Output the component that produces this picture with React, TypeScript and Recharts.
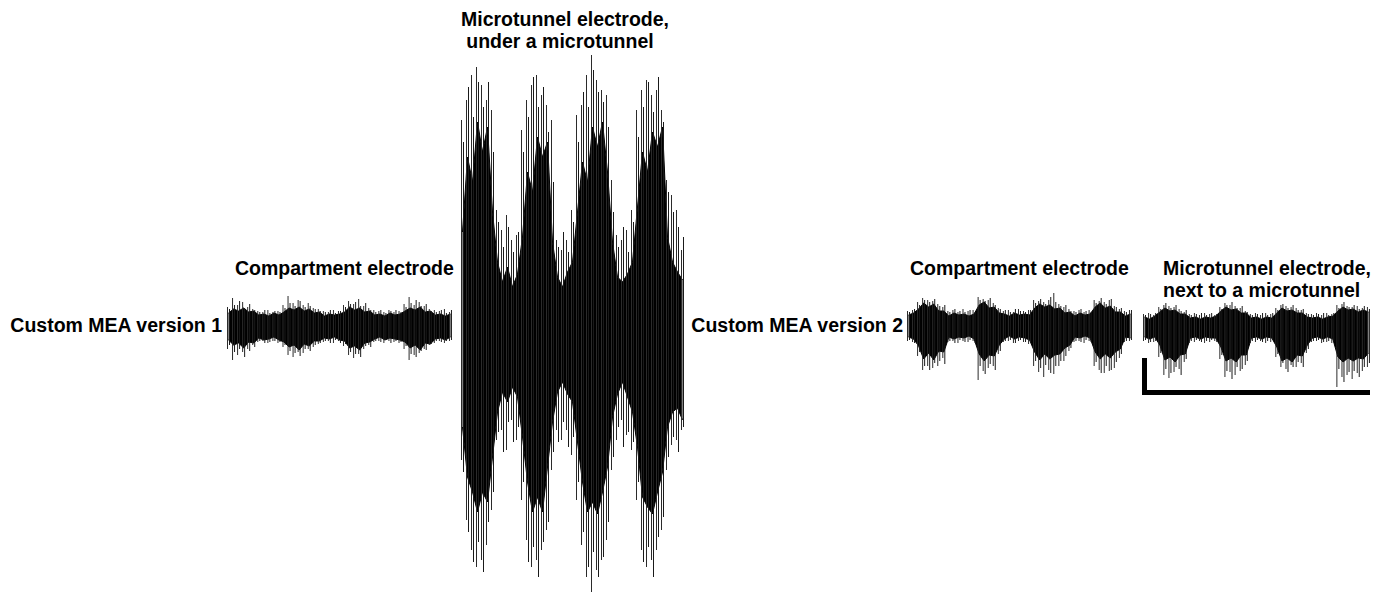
import React from "react";
import { ComposedChart, Area, Bar, XAxis, YAxis } from "recharts";

// amplitudes (1 unit = 1 px), positive = up, 45 time bins per trace
// core = solid black band, spikeA / spikeB = two sets of thin spike lines per bin

const coreHi1 = [14,18,16,19,15,16,12,13,11,14,12,15,19,17,20,16,18,14,15,11,13,12,13,15,20,17,19,15,16,12,13,11,14,12,13,16,19,17,20,15,16,12,13,11,13];
const coreLo1 = [-13,-18,-16,-21,-15,-16,-11,-13,-12,-10,-13,-15,-20,-18,-23,-17,-19,-14,-14,-11,-12,-10,-13,-14,-21,-19,-23,-16,-15,-12,-10,-13,-11,-12,-13,-15,-21,-18,-23,-16,-17,-12,-11,-13,-10];
const spikeHiA1 = [20,29,22,25,20,18,16,15,17,15,16,22,31,24,27,22,24,19,18,16,15,17,16,22,26,23,28,21,19,17,16,15,17,15,16,23,30,22,25,21,18,17,16,18,15];
const spikeLoA1 = [-22,-33,-28,-25,-22,-18,-15,-14,-16,-14,-16,-20,-28,-30,-25,-26,-22,-20,-17,-15,-14,-16,-14,-19,-28,-31,-27,-22,-18,-15,-14,-16,-14,-15,-16,-22,-33,-28,-26,-22,-18,-16,-14,-16,-14];
const spikeHiB1 = [18,22,26,19,23,17,15,17,14,16,15,19,24,21,26,20,21,18,16,15,17,14,16,20,23,25,21,24,17,15,17,14,16,17,15,20,24,27,21,23,16,15,17,14,17];
const spikeLoB1 = [-18,-25,-22,-30,-24,-20,-14,-16,-15,-14,-15,-18,-24,-26,-29,-22,-24,-18,-16,-14,-16,-13,-16,-17,-25,-27,-30,-19,-20,-14,-15,-13,-16,-14,-15,-19,-27,-30,-24,-23,-17,-14,-15,-14,-13];

const coreHi2 = [100,175,150,210,180,205,120,70,50,65,45,58,95,160,140,195,175,190,90,55,45,60,70,120,170,150,205,185,210,160,90,55,50,58,70,125,180,160,200,185,205,95,70,60,52];
const coreLo2 = [-95,-145,-160,-180,-160,-170,-125,-80,-60,-70,-55,-65,-105,-150,-180,-165,-180,-135,-90,-60,-50,-62,-70,-110,-150,-180,-170,-182,-160,-135,-85,-62,-50,-65,-80,-115,-165,-175,-182,-160,-140,-95,-80,-76,-88];
const spikeHiA2 = [212,232,257,265,247,232,222,122,102,117,92,97,202,232,247,257,237,227,212,92,82,92,122,217,227,257,277,252,242,237,152,97,92,102,122,222,242,252,237,242,222,152,137,122,82];
const spikeLoA2 = [-128,-188,-218,-235,-228,-213,-178,-108,-98,-118,-88,-108,-168,-208,-235,-228,-218,-198,-138,-98,-108,-98,-123,-168,-213,-245,-260,-238,-228,-208,-138,-108,-88,-103,-118,-168,-218,-235,-228,-218,-198,-138,-113,-108,-98];
const spikeHiB2 = [190,245,215,250,225,250,180,110,85,105,80,100,180,215,255,225,245,200,150,85,100,80,110,190,240,225,262,240,230,205,120,85,105,80,110,195,225,250,220,255,210,140,120,105,95];
const spikeLoB2 = [-140,-200,-230,-210,-240,-190,-160,-100,-120,-90,-110,-95,-150,-230,-215,-245,-210,-190,-120,-110,-90,-115,-105,-150,-200,-235,-220,-245,-225,-190,-125,-95,-115,-100,-110,-150,-230,-215,-245,-205,-185,-125,-105,-120,-95];

const coreHi3 = [11,13,17,23,19,22,15,15,10,13,11,12,10,12,21,24,18,19,13,12,10,13,11,12,11,18,22,19,21,17,18,13,14,10,13,11,12,19,23,18,20,14,14,10,12];
const coreLo3 = [-11,-13,-20,-33,-27,-34,-25,-26,-11,-13,-11,-12,-10,-13,-28,-35,-29,-30,-19,-13,-10,-13,-11,-12,-14,-26,-34,-28,-33,-29,-28,-22,-19,-11,-12,-10,-12,-26,-33,-28,-32,-26,-23,-11,-12];
const spikeHiA3 = [15,16,24,28,26,25,22,19,15,16,14,17,15,16,29,27,26,23,18,15,16,14,17,15,16,26,25,24,26,33,22,19,17,15,16,14,16,26,25,24,26,20,17,15,16];
const spikeLoA3 = [-15,-16,-30,-44,-40,-42,-40,-32,-16,-15,-17,-15,-16,-15,-54,-45,-42,-40,-28,-16,-15,-17,-15,-16,-18,-40,-46,-51,-44,-48,-40,-35,-25,-16,-15,-17,-15,-40,-44,-47,-45,-42,-32,-16,-15];
const spikeHiB3 = [14,17,21,26,24,27,20,21,14,17,15,14,16,14,26,25,28,21,17,16,14,17,15,14,16,23,27,22,29,24,20,21,15,14,17,15,14,23,28,22,27,19,18,14,16];
const spikeLoB3 = [-14,-17,-26,-40,-44,-37,-35,-38,-15,-17,-14,-16,-14,-17,-40,-48,-38,-44,-25,-15,-14,-17,-14,-16,-17,-35,-42,-39,-47,-40,-35,-30,-22,-15,-16,-14,-16,-36,-47,-40,-44,-36,-28,-15,-14];

const coreHi4 = [10,8,11,15,19,16,17,13,13,9,10,8,10,9,11,16,20,17,18,14,14,9,10,8,10,9,14,19,16,17,14,14,10,9,10,8,10,11,16,20,17,18,15,17,15];
const coreLo4 = [-10,-12,-10,-18,-33,-30,-35,-28,-27,-11,-10,-12,-10,-11,-11,-20,-34,-31,-35,-28,-28,-11,-10,-12,-10,-11,-20,-34,-31,-35,-28,-29,-18,-11,-10,-12,-10,-12,-30,-35,-31,-34,-31,-32,-26];
const spikeHiA4 = [13,14,12,20,22,21,20,18,15,13,14,12,14,13,12,20,24,22,21,19,16,13,14,12,14,13,19,22,21,20,19,17,14,13,14,12,14,13,22,23,21,20,21,19,20];
const spikeLoA4 = [-14,-16,-15,-30,-48,-51,-45,-42,-35,-16,-15,-14,-16,-15,-14,-32,-50,-45,-48,-44,-38,-16,-15,-14,-16,-15,-30,-40,-42,-38,-40,-36,-26,-15,-14,-16,-15,-16,-60,-50,-48,-52,-46,-44,-40];
const spikeHiB4 = [12,13,14,18,24,19,22,16,17,12,13,14,12,14,13,18,22,25,19,21,15,12,13,14,12,14,17,23,19,22,17,18,13,12,13,14,12,14,19,25,20,22,18,21,18];
const spikeLoB4 = [-13,-15,-14,-26,-42,-46,-40,-48,-32,-14,-13,-15,-14,-13,-15,-28,-44,-52,-40,-42,-34,-14,-13,-15,-14,-13,-27,-36,-45,-40,-35,-40,-22,-14,-13,-15,-14,-15,-42,-55,-45,-44,-50,-40,-36];

const FONT = "'Liberation Sans', Arial, sans-serif";

function buildRows(
  coreLo: number[], coreHi: number[],
  loA: number[], hiA: number[],
  loB: number[], hiB: number[]
) {
  return coreHi.map((_, i) => ({
    t: i,
    core: [coreLo[i], coreHi[i]],
    spikeA: [loA[i], hiA[i]],
    spikeB: [loB[i], hiB[i]],
  }));
}

function Trace({ left, top, width, half, rows }: any) {
  return (
    <div style={{ position: "absolute", left, top }}>
      <ComposedChart
        width={width}
        height={half * 2}
        data={rows}
        barGap={1}
        margin={{ top: 0, right: 0, bottom: 0, left: 0 }}
      >
        <XAxis dataKey="t" hide />
        <YAxis hide domain={[-half, half]} allowDataOverflow />
        <Bar dataKey="spikeA" barSize={1} fill="#2b2b2b" isAnimationActive={false} />
        <Bar dataKey="spikeB" barSize={1} fill="#1a1a1a" isAnimationActive={false} />
        <Area
          type="linear"
          dataKey="core"
          stroke="#000"
          strokeWidth={1}
          fill="#000"
          fillOpacity={1}
          dot={false}
          activeDot={false}
          isAnimationActive={false}
        />
      </ComposedChart>
    </div>
  );
}

export default function App() {
  return (
    <div
      style={{
        position: "absolute",
        left: 0,
        top: 0,
        width: 1386,
        height: 593,
        background: "#fff",
        overflow: "hidden",
      }}
    >
      <Trace left={226} top={267} width={227} half={60}
        rows={buildRows(coreLo1, coreHi1, spikeLoA1, spikeHiA1, spikeLoB1, spikeHiB1)} />
      <Trace left={460} top={52} width={225} half={280}
        rows={buildRows(coreLo2, coreHi2, spikeLoA2, spikeHiA2, spikeLoB2, spikeHiB2)} />
      <Trace left={906} top={266} width={227} half={60}
        rows={buildRows(coreLo3, coreHi3, spikeLoA3, spikeHiA3, spikeLoB3, spikeHiB3)} />
      <Trace left={1142} top={267} width={229} half={60}
        rows={buildRows(coreLo4, coreHi4, spikeLoA4, spikeHiA4, spikeLoB4, spikeHiB4)} />

      <svg
        width={1386}
        height={593}
        style={{ position: "absolute", left: 0, top: 0, pointerEvents: "none" }}
      >
        <g fontFamily={FONT} fontWeight="bold" fontSize={19.5} fill="#000">
          <text x={565} y={26} textAnchor="middle">Microtunnel electrode,</text>
          <text x={560} y={48} textAnchor="middle">under a microtunnel</text>
          <text x={222} y={332} textAnchor="end">Custom MEA version 1</text>
          <text x={235} y={275}>Compartment electrode</text>
          <text x={903} y={332} textAnchor="end">Custom MEA version 2</text>
          <text x={910} y={275}>Compartment electrode</text>
          <text x={1163} y={275}>Microtunnel electrode,</text>
          <text x={1163} y={297}>next to a microtunnel</text>
        </g>
        {/* scale bar */}
        <rect x={1142} y={358} width={5} height={37} fill="#000" />
        <rect x={1142} y={390} width={228} height={5} fill="#000" />
      </svg>
    </div>
  );
}
